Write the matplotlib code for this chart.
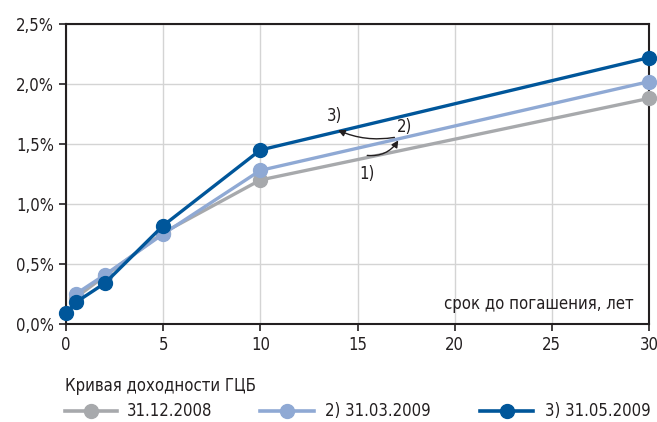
import matplotlib
matplotlib.use("Agg")
import matplotlib.pyplot as plt
from matplotlib.lines import Line2D

plt.rcParams['font.family'] = ['DejaVu Sans']
plt.rcParams['font.stretch'] = 'condensed'

# Maturity (years) and yields (%) for three yield-curve dates
x_gray = [0.5, 2, 5, 10, 30]
y_gray = [0.22, 0.40, 0.76, 1.20, 1.88]

x_light = [0.5, 2, 5, 10, 30]
y_light = [0.25, 0.41, 0.75, 1.28, 2.02]

x_dark = [0, 0.5, 2, 5, 10, 30]
y_dark = [0.09, 0.18, 0.34, 0.82, 1.45, 2.22]

labels = ["31.12.2008", "2) 31.03.2009", "3) 31.05.2009"]
legend_title = "Кривая доходности ГЦБ"
x_ticks = [0, 5, 10, 15, 20, 25, 30]
y_ticks = [0.0, 0.5, 1.0, 1.5, 2.0, 2.5]

c_gray = "#a7a9ac"
c_light = "#8fa9d4"
c_dark = "#00569a"
c_text = "#231f20"
fs = 12

W, H = 657, 422
fig = plt.figure(figsize=(W / 100, H / 100), dpi=100)
ax = fig.add_axes([66 / W, 1 - 324 / H, (649 - 66) / W, 300 / H])

for xs, ys, c in [(x_gray, y_gray, c_gray), (x_light, y_light, c_light), (x_dark, y_dark, c_dark)]:
    ax.plot(xs, ys, color=c, lw=2.4, marker="o", ms=10, mec=c, mfc=c, clip_on=False, zorder=3)

ax.set_xlim(0, 30)
ax.set_ylim(0, 2.5)
ax.set_xticks(x_ticks)
ax.set_xticklabels([str(v) for v in x_ticks])
ax.set_yticks(y_ticks)
ax.set_yticklabels([f"{v:.1f}%".replace(".", ",") for v in y_ticks])
ax.grid(True, color="#d4d4d4", lw=1)
ax.set_axisbelow(True)
for s in ax.spines.values():
    s.set_color(c_text)
    s.set_linewidth(1.5)
ax.tick_params(axis="both", direction="out", length=5, width=1.2, color=c_text,
               labelsize=fs, labelcolor=c_text)

ax.text(29.2, 0.09, "срок до погашения, лет", ha="right", va="bottom", fontsize=fs, color=c_text)

# Series markers near the 10-30 year segment
ax.text(13.8, 1.73, "3)", fontsize=fs, ha="center", va="center", color=c_text)
ax.text(17.4, 1.64, "2)", fontsize=fs, ha="center", va="center", color=c_text)
ax.text(15.5, 1.25, "1)", fontsize=fs, ha="center", va="center", color=c_text)
arrow_kw = dict(arrowstyle="-|>", color=c_text, lw=1.0, mutation_scale=10, shrinkA=0, shrinkB=0)
ax.annotate("", xy=(14.0, 1.615), xytext=(16.9, 1.555),
            arrowprops=dict(connectionstyle="arc3,rad=-0.15", **arrow_kw))
ax.annotate("", xy=(17.1, 1.53), xytext=(15.5, 1.405),
            arrowprops=dict(connectionstyle="arc3,rad=0.3", **arrow_kw))

# Legend below the plot, laid out in pixel positions
fig.text(65 / W, 1 - 386 / H, legend_title, fontsize=fs, color=c_text, va="center", ha="left")
y_leg = 1 - 411 / H
for (x0, x1, xt), c, lab in zip([(65, 117, 127), (260, 314, 325), (480, 533, 545)],
                                (c_gray, c_light, c_dark), labels):
    fig.add_artist(Line2D([x0 / W, x1 / W], [y_leg, y_leg], color=c, lw=2.6,
                          transform=fig.transFigure))
    fig.add_artist(Line2D([(x0 + x1) / 2 / W], [y_leg], color=c, marker="o", ms=10,
                          transform=fig.transFigure))
    fig.text(xt / W, y_leg, lab, fontsize=fs, color=c_text, va="center", ha="left")

fig.savefig("out.png", dpi=100)
